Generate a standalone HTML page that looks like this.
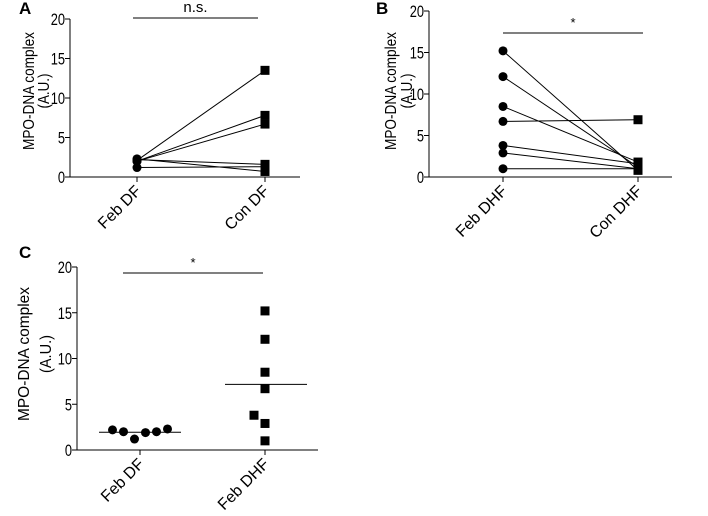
<!DOCTYPE html>
<html><head><meta charset="utf-8"><style>
body{margin:0;background:#fff;}
svg{display:block;font-family:"Liberation Sans",Arial,sans-serif;}
</style></head><body>
<svg id="fig" width="708" height="516" viewBox="0 0 708 516" xmlns="http://www.w3.org/2000/svg"></svg>
<script>
// Panel A data (paired)
const aCategories = ["Feb DF", "Con DF"];
const aBefore = [2.1, 2.0, 2.0, 2.2, 1.2, 2.3];
const aAfter = [13.5, 7.8, 6.7, 1.6, 1.3, 0.7];
// Panel B data (paired)
const bCategories = ["Feb DHF", "Con DHF"];
const bBefore = [15.2, 12.1, 8.5, 6.7, 3.8, 2.9, 1.0];
const bAfter = [0.8, 1.2, 1.8, 6.9, 1.6, 1.0, 1.0];
// Panel C data (scatter with mean)
const cCategories = ["Feb DF", "Feb DHF"];
const cDF = [2.2, 2.0, 1.2, 1.9, 2.0, 2.3];
const cDHF = [15.2, 12.1, 8.5, 6.7, 3.8, 2.9, 1.0];
const yTicks = [0, 5, 10, 15, 20];

const NS = "http://www.w3.org/2000/svg";
const svg = document.getElementById("fig");
function mk(tag, attrs, parent, text) {
  const e = document.createElementNS(NS, tag);
  for (const k in attrs) e.setAttribute(k, attrs[k]);
  if (text !== undefined) e.textContent = text;
  (parent || svg).appendChild(e);
  return e;
}
function axes(p) {
  const g = mk("g", {});
  
  
  p.y = v => p.y0 + (p.y20 - p.y0) * v / 20;
  const lab = mk("text", {x: p.lx, y: p.ly, "font-size": 17, "font-weight": "bold"}, g, p.label);
  
  
  const ya = mk("line", {x1: p.ax, x2: p.ax, y1: p.y20, y2: p.y0, stroke: "#000", "stroke-width": 1}, g);
  
  
  const xa = mk("line", {x1: p.ax, x2: p.xend, y1: p.y0, y2: p.y0, stroke: "#000", "stroke-width": 1}, g);
  
  
  yTicks.forEach(t => {
    const yy = p.y(t);
    mk("line", {x1: p.ax - 5, x2: p.ax, y1: yy, y2: yy, stroke: "#000"}, g);
    const tl = mk("text", {x: 0, y: 0, "font-size": 16.5, "text-anchor": "end", transform: `translate(${p.ax - 5},${yy + 6}) scale(0.78,1)`}, g, t);
    
    
  });
  const cy = p.tcy;
  const t1 = mk("text", {x: 0, y: 0, "font-size": 16, "text-anchor": "middle", textLength: p.t1L, lengthAdjust: "spacingAndGlyphs", transform: `translate(${p.t1x},${cy}) rotate(-90)`}, g, "MPO-DNA complex");
  
  
  mk("text", {x: 0, y: 0, "font-size": 16, "text-anchor": "middle", textLength: p.t2L, lengthAdjust: "spacingAndGlyphs", transform: `translate(${p.t2x},${cy}) rotate(-90)`}, g, "(A.U.)");
  p.cats.forEach((c, i) => {
    const xx = p.xs[i];
    mk("line", {x1: xx, x2: xx, y1: p.y0, y2: p.y0 + 5, stroke: "#000"}, g);
    const xl = mk("text", {x: 0, y: 0, "font-size": 16, "text-anchor": "end", transform: `translate(${xx + 5},${p.y0 + 15}) rotate(-45)`}, g, c);
    
    
  });
  const sl = mk("line", {x1: p.sig[0], x2: p.sig[1], y1: p.sigY, y2: p.sigY, stroke: "#000"}, g);
  
  
  const st = mk("text", {x: (p.sig[0] + p.sig[1]) / 2, y: p.sigY - 6, "font-size": p.sigText === "*" ? 13 : 15, "text-anchor": "middle"}, g, p.sigText);
  
  
  return g;
}
function dot(g, x, y) {
  const c = mk("circle", {cx: x, cy: y, r: 4.5, fill: "#000"}, g);
  
  
}
function sq(g, x, y) {
  const r = mk("rect", {x: x - 4.5, y: y - 4.5, width: 9, height: 9, fill: "#000"}, g);
  
  
}
function paired(p, before, after) {
  const g = axes(p);
  before.forEach((v, i) => {
    const ln = mk("line", {x1: p.xs[0], y1: p.y(v), x2: p.xs[1], y2: p.y(after[i]), stroke: "#000", "stroke-width": 1}, g);
    
    
  });
  before.forEach(v => dot(g, p.xs[0], p.y(v)));
  after.forEach(v => sq(g, p.xs[1], p.y(v)));
}
paired({id: "a", label: "A", lx: 19, ly: 14, ax: 70, xend: 300, y0: 177, y20: 19, xs: [137, 265], cats: aCategories, sig: [133, 258], sigY: 18, sigText: "n.s.", t1x: 34, t2x: 49, t1L: 118, t2L: 35, tcy: 91}, aBefore, aAfter);
paired({id: "b", label: "B", lx: 376, ly: 14, ax: 429, xend: 672, y0: 177, y20: 11, xs: [503, 638], cats: bCategories, sig: [503, 643], sigY: 33, sigText: "*", t1x: 396, t2x: 412, t1L: 118, t2L: 35, tcy: 91}, bBefore, bAfter);

const pc = {id: "c", label: "C", lx: 19, ly: 258, ax: 77, xend: 318, y0: 450, y20: 267, xs: [140, 265], cats: cCategories, sig: [123, 263], sigY: 273, sigText: "*", t1x: 29, t2x: 51, t1L: 134, t2L: 38, tcy: 354};
const gc = axes(pc);
const mean = a => a.reduce((s, v) => s + v, 0) / a.length;
const m1 = mk("line", {x1: 99, x2: 181, y1: pc.y(mean(cDF)), y2: pc.y(mean(cDF)), stroke: "#000"}, gc);


const m2 = mk("line", {x1: 225, x2: 307, y1: pc.y(mean(cDHF)), y2: pc.y(mean(cDHF)), stroke: "#000"}, gc);


cDF.forEach((v, i) => dot(gc, pc.xs[0] + (i - (cDF.length - 1) / 2) * 11, pc.y(v)));
cDHF.forEach((v, i) => sq(gc, pc.xs[1] - (i === 4 ? 11 : 0), pc.y(v)));
</script>
</body></html>
